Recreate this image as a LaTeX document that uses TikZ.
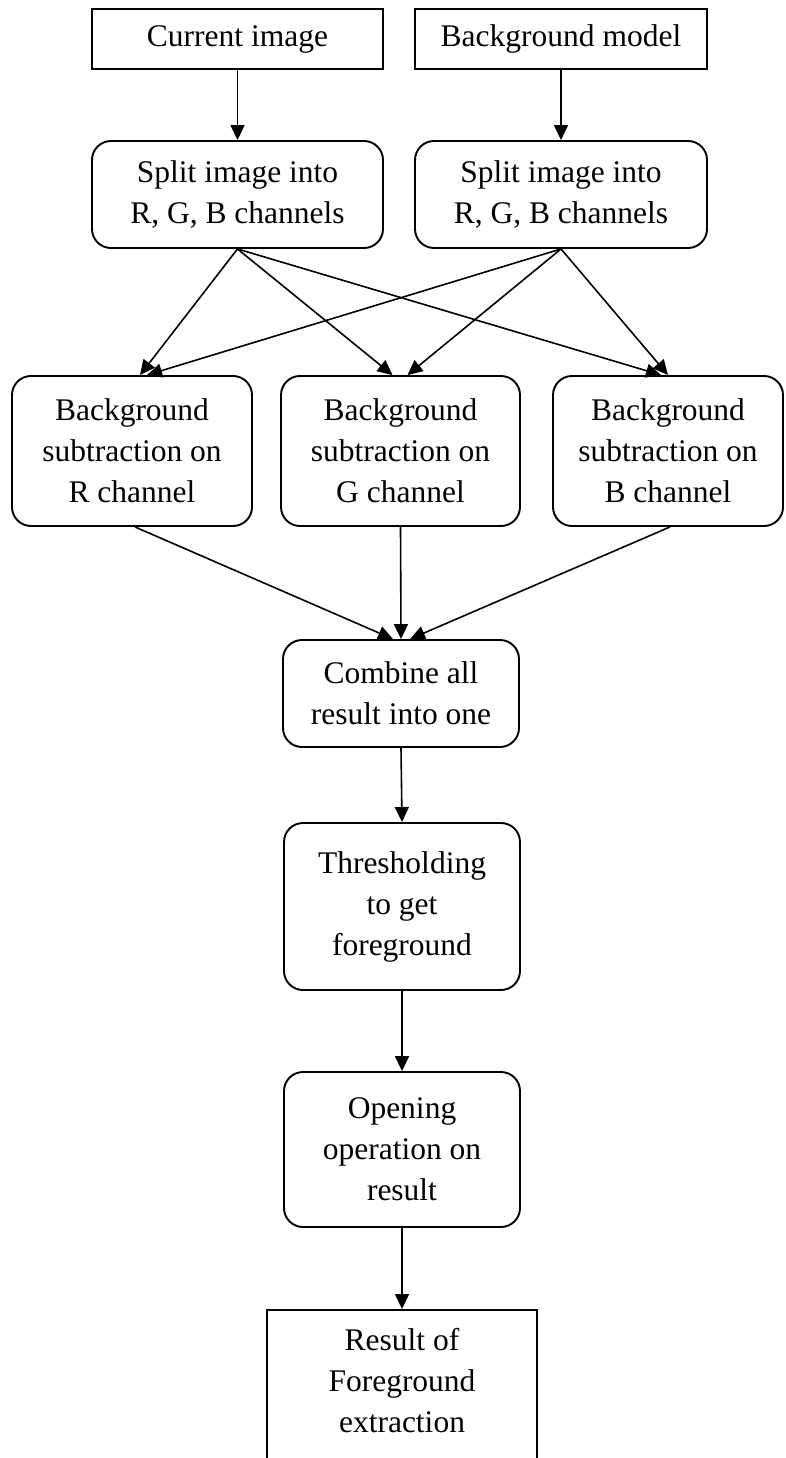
\documentclass[tikz,border=0pt]{standalone}
\usepackage{fontspec}
\setmainfont{Liberation Serif}
\usetikzlibrary{arrows.meta,calc}
\begin{document}
\begin{tikzpicture}[x=1pt,y=-1pt,
  every node/.style={font=\fontsize{31.5}{41}\selectfont, align=center, inner sep=0pt},
  sqbox/.style={draw, line width=1.9pt},
  rbox/.style={draw, line width=1.9pt, rounded corners=19pt},
  conn/.style={line width=1.6pt, -{Triangle[length=15pt,width=14pt]}}
]
\fill[white] (0,0) rectangle (785,1458);
\useasboundingbox (0,0) rectangle (785,1458);
\clip (0,0) rectangle (785,1458);

% top row
\node[sqbox, minimum width=291, minimum height=60] (cur) at (237.5,39) {Current image};
\node[sqbox, minimum width=292, minimum height=60] (bgm) at (561,39) {Background model};

% split boxes
\node[rbox, minimum width=291, minimum height=107] (s1) at (237.5,194.5) {Split image into\\R, G, B channels};
\node[rbox, minimum width=292, minimum height=107] (s2) at (561,194.5) {Split image into\\R, G, B channels};

% channel boxes
\node[rbox, minimum width=240, minimum height=150] (R) at (132,451) {Background\\subtraction on\\R channel};
\node[rbox, minimum width=239, minimum height=150] (G) at (400.5,451) {Background\\subtraction on\\G channel};
\node[rbox, minimum width=230, minimum height=150] (B) at (668,451) {Background\\subtraction on\\B channel};

% pipeline
\node[rbox, minimum width=236, minimum height=107] (comb) at (401,693.5) {Combine all\\result into one};
\node[rbox, minimum width=236, minimum height=167] (thr) at (402,906.5) {Thresholding\\to get\\foreground};
\node[rbox, minimum width=236, minimum height=155] (opn) at (402,1149.5) {Opening\\operation on\\result};
\node[sqbox, minimum width=270, minimum height=200, anchor=north] (res) at (402,1309) {};
\node (restext) at (402,1381) {Result of\\Foreground\\extraction};

% connectors
\draw[conn] (cur.south) -- (s1.north);
\draw[conn] (bgm.south) -- (s2.north);

\draw[conn] (s1.south) -- ($(R.north)+(8,0)$);
\draw[conn] (s1.south) -- ($(G.north)+(-8,0)$);
\draw[conn] (s1.south) -- ($(B.north)+(-7,0)$);
\draw[conn] (s2.south) -- ($(R.north)+(15,0)$);
\draw[conn] (s2.south) -- ($(G.north)+(7,0)$);
\draw[conn] (s2.south) -- (B.north);

\draw[conn] ($(R.south)+(3,0)$) -- ($(comb.north)+(-8,0)$);
\draw[conn] (G.south) -- (comb.north);
\draw[conn] ($(B.south)+(2,0)$) -- ($(comb.north)+(9,0)$);

\draw[conn] (comb.south) -- (thr.north);
\draw[conn] (thr.south) -- (opn.north);
\draw[conn] (opn.south) -- (res.north);
\end{tikzpicture}
\end{document}
